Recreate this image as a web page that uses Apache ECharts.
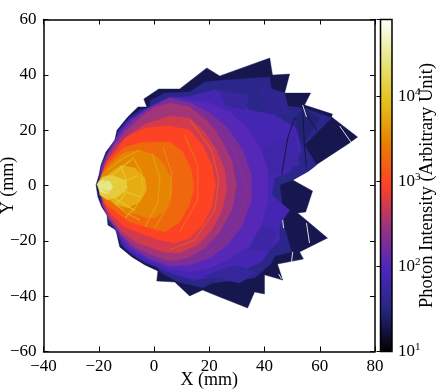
<!DOCTYPE html>
<html><head><meta charset="utf-8">
<style>html,body{margin:0;padding:0;background:#fff}#c{width:440px;height:390px}</style>
<script src="https://cdn.jsdelivr.net/npm/echarts@6/dist/echarts.min.js"></script></head>
<body><div id="c"></div>
<script>
// Regions in mm, each with an estimated photon intensity
const outline=[[-21,0.2],[-19.9,3.8],[-19.2,7.4],[-17.4,12.1],[-14.2,16.4],[-13.4,20],[-9.5,24.8],[-5.8,28.4],[-2.6,28.4],[-3.7,31.3],[1.7,34.9],[9.3,34.9],[19.1,42.5],[23.8,39.6],[41.9,46.1],[42.9,39.9],[49.1,40.3],[47.3,33.4],[56.7,33.4],[54.5,29.1],[64.6,25.8],[64.3,24.8],[73.7,17.5],[70.8,15.4],[59.2,7.8],[55.9,5.2],[50.2,2],[57.4,-2],[54.9,-9.6],[52,-9.9],[62.8,-19],[52.7,-24],[54.1,-26.6],[44.7,-28.4],[46.6,-34.2],[40,-32.3],[40,-39.2],[36.4,-38.5],[33.9,-44.3],[23.8,-40.3],[17.6,-37.8],[12.9,-39.9],[7.5,-34.9],[1,-34.5],[1.4,-30.9],[-3.3,-28.7],[-8,-25.8],[-12.4,-22.2],[-13.8,-16.1],[-16.7,-14.3],[-17,-10.7],[-18.9,-7.8],[-20.3,-4.2]];
const navyZone=[[-19.6,1],[-18.9,7],[-17,11.6],[-13.8,16],[-12.9,19.8],[-9,24.5],[-4.8,27.6],[-1.5,28],[-1.5,30.5],[3.9,33.4],[12.9,33.8],[18.4,37.4],[25.6,38.1],[41.9,39.2],[42.6,33.8],[47.3,33],[48,28.7],[54.5,28],[64.3,24.4],[54.5,14.6],[58.8,7.4],[56,5.2],[50.2,2],[45.5,0.2],[46.9,-10.7],[46.2,-11.7],[49.8,-24],[43.7,-25.5],[42.6,-28],[39,-31.3],[36.4,-33.4],[21.3,-35.2],[17.6,-37],[8.6,-34.9],[2.1,-31.3],[1.4,-29.5],[-3.3,-28],[-8,-25],[-12,-21.5],[-13.5,-16],[-16.3,-14],[-16.8,-10.5],[-18.7,-7.5],[-19.9,-3.4]];
const blueZone=[[-19.9,2],[-19.1,7.4],[-17.2,11],[-14,14.6],[-13,19.3],[-9,24],[-3.3,27],[-0.8,27.6],[5.7,31.6],[12.9,32.3],[21.9,34.5],[29.2,32.7],[34.6,27.3],[43.7,25.5],[51.3,20.8],[53.4,12.8],[49.1,4.9],[43.7,2.7],[42.6,-3.4],[49.1,-8.9],[45.5,-14.3],[45.5,-19.7],[41.9,-23.3],[39,-27.6],[31,-31.3],[21.9,-32.7],[14.7,-34.2],[7.5,-32.3],[2.1,-30],[-5.1,-26.6],[-10.5,-22.5],[-13,-18],[-14.5,-15],[-16,-12.5],[-17,-9],[-19,-5]];
const facetA=[[38.2,36.3],[47.3,33.4],[49.1,25.5],[40,26.6]];
const facetB=[[50.9,24.4],[54.5,28],[59.9,24.4],[53.8,14.6]];
const facetC=[[23.8,34.5],[34.6,32.7],[32.8,27.3],[25.6,29.1]];
const facetD=[[38.9,12.8],[50.9,18.2],[52.7,7.4],[41.2,3.8]];
const facetE=[[38.9,-14.3],[44.7,-16.8],[41.9,-23.3],[34.6,-23.3]];
const facetF=[[18.4,-32.7],[29.2,-28.7],[37.5,-31.3],[31,-35.2]];
const level110=[[-19.4,3.8],[-18.7,7.4],[-17.3,11],[-15.3,14.6],[-12.5,19.3],[-8.5,23.7],[-2.5,28],[5.7,32],[12.9,31],[20.2,29.8],[27.4,26.6],[32.8,21.9],[38.9,12.8],[41.2,5.6],[41.2,-5.2],[38.9,-14.3],[34.6,-21.5],[28,-26.2],[20.2,-29.8],[12.9,-31.3],[5.7,-30],[-1.5,-27],[-9,-23],[-12.2,-19],[-13,-16],[-15,-14],[-17,-10],[-19,-5]];
const level190=[[-19.2,3.8],[-18.5,7.4],[-17,11],[-14.9,14.6],[-11.6,19.3],[-7.7,23.7],[-1.5,28],[5.7,31.6],[12.9,30],[20.2,26.2],[26.7,20.8],[32.1,12.8],[35.3,3.8],[35.3,-5.2],[32.1,-14.3],[26.7,-21.5],[20.2,-26.2],[12.9,-28.7],[5.7,-29.1],[-1.5,-26.5],[-8.7,-22],[-12,-18],[-13,-15.5],[-16.5,-12],[-18.7,-7],[-19.2,-2.7]];
const level320=[[-18.9,3.8],[-18.1,7.4],[-16.7,11],[-14.2,14.6],[-10.5,19.3],[-5.1,24.4],[0.3,28.4],[5.7,29.8],[12.9,28.5],[19.5,23],[24.5,16.4],[28.1,9.2],[29.9,0.2],[28.1,-8.9],[23.8,-16.8],[18.4,-22.6],[12.2,-26.2],[5.7,-27.3],[-0.8,-25.1],[-6.9,-22.2],[-12,-17.6],[-16,-12.5],[-18.5,-7],[-18.9,-2.7]];
const level550=[[-18.9,3.4],[-17.8,7],[-16,10.7],[-13.1,14.6],[-8.7,18.6],[-3.3,22.2],[5.7,25.1],[12.9,24.4],[18.4,19.3],[22.7,12.8],[25.6,5.6],[26.3,-1.6],[24.5,-9.6],[20.9,-16.1],[15.8,-21.5],[9.3,-24.4],[3.2,-24],[-5.8,-20.8],[-11.6,-16.8],[-15.6,-11.7],[-18.1,-7],[-18.9,-3.1]];
const level950=[[-18.9,3.1],[-18.1,6.3],[-16.7,9.2],[-13.4,12.8],[-10.5,17.2],[-3.3,20.8],[5.7,21.5],[12.9,20.1],[17.6,14.6],[20.9,7.4],[22.3,0.2],[20.9,-7.8],[17.6,-14.3],[12.9,-19],[7.5,-20.8],[2.1,-19.7],[-3.3,-17.9],[-10.5,-15],[-15.2,-10.7],[-18.1,-6.3],[-18.9,-3]];
const level1800=[[-19.2,2.7],[-18.5,4.9],[-17,7.4],[-13.8,11],[-10.5,13.9],[-5.1,15.4],[0.3,15.7],[5.7,15.7],[10.4,12.1],[13.6,5.6],[14.4,-0.9],[12.9,-7],[9.3,-13.2],[3.9,-16.8],[-1.5,-15.4],[-8.7,-13.2],[-13.4,-9.9],[-17,-7],[-18.9,-4.2]];
const level3000=[[-19.6,2.3],[-18.9,3.8],[-17,6.3],[-13.4,9.9],[-10.5,12.1],[-5.1,12.8],[0.3,11],[3.9,7.4],[6.4,2],[6.4,-3.4],[3.9,-8.9],[0.3,-11.7],[-3.3,-11.4],[-8.7,-9.9],[-13.4,-7.8],[-17.4,-4.5],[-19.2,-2.3]];
const level6000=[[-19.6,1.6],[-17.2,3.4],[-14.5,5.6],[-11.7,7.4],[-6.9,6.3],[-3.3,2.7],[-2.6,-1.6],[-5.1,-5.9],[-9.4,-8.1],[-13.8,-7],[-16.7,-3.8],[-19.4,-1.8]];
const level12000=[[-20.3,1.3],[-18.5,3.1],[-15.2,3.8],[-10.5,2],[-9.5,-0.9],[-13.1,-4.2],[-16.7,-5.2],[-19.6,-3.4]];
const level28000=[[-20.7,0.5],[-18.5,2],[-16,1.6],[-14.9,-0.5],[-16.7,-3.1],[-19.6,-2.3]];
const regionShapes=[outline,navyZone,blueZone,facetA,facetB,facetC,facetD,facetE,facetF,level110,level190,level320,level550,level950,level1800,level3000,level6000,level12000,level28000];
const regionValues=[20,36,75,42,28,52,62,58,48,110,190,320,550,950,1800,3000,6000,12000,28000];
// Bright arcs and rays
const arcA=[[-7.7,10.3],[-4.4,4.5],[-4,-1.6],[-6.6,-7.8],[-10.5,-11.7]];
const arcB=[[-0.8,11.7],[2.1,3.1],[1.4,-6.3],[-3.3,-15]];
const arcC=[[3.2,13.9],[6.4,4.5],[5.7,-6.3],[0.3,-15.4]];
const arcD=[[11.1,18.3],[15.8,7.4],[15.8,-5.2],[9.3,-16.8]];
const arcE=[[13,23.7],[20.9,12.8],[23.4,2],[22,-8.9],[14.7,-19.7],[5.7,-23.3]];
const arcF=[[11.1,29.1],[22,20],[28.5,5.6],[28.5,-7],[22,-17.9]];
const arcG=[[16.6,26.6],[29.2,12.8],[33.9,-1.6],[29.2,-16.1],[18.4,-25.1]];
const arcH=[[-12,7],[-10,2],[-11,-4],[-14,-7]];
const rayA=[[-16.7,5.6],[-10.5,10.3],[-5.1,12.8]];
const rayB=[[-16.7,-4.2],[-10.5,-9.6],[-5.1,-12.5]];
const rayC=[[-19,0.5],[-13,5.5],[-8,9.5]];
const rayD=[[-19,-1],[-13,-5.5],[-7,-9]];
const rayE=[[-18,2],[-12,1],[-6,3.5]];
const rayF=[[-18,-2],[-11,-2],[-5,-4]];
const arcShapes=[arcA,arcB,arcC,arcD,arcE,arcF,arcG,arcH,rayA,rayB,rayC,rayD,rayE,rayF];
const arcValues=[9000,6000,4500,3000,1700,420,260,14000,7000,7000,14000,14000,14000,14000];
// Dark seams and white gaps between the outer regions
const darkSeams=[[[53.8,28.4],[54.5,13.9],[55.2,6.7]],[[50.9,24.4],[48.4,17.2],[46.2,3.8]],[[53.8,28.4],[58.8,20.1]]];
const whiteGaps=[[[53.8,29.1],[55.2,24.8]],[[67.2,21.5],[71.5,15.4]],[[46.6,-12.5],[46.9,-15.4]],[[55.2,-13.6],[56.3,-20.8]],[[50.2,-24],[49.8,-27.6]],[[45.1,-32],[46.2,-33.8]]];
const colorStops=['#000000','#262680','#4d26bf','#993380','#ff4026','#e68000','#e6bf1a','#e6e680','#ffffff'];
const colorRange=[10,80000];
const xTicks={min:-40,max:80,interval:20};
const yTicks={min:-60,max:60,interval:20};

const FONT='"Liberation Serif"';
const minus=v=>String(v).replace('-','\u2212');
const GL=43.5,GT=19.5,GW=331.5,GH=332;
const lineAxis={show:true,onZero:false,lineStyle:{color:'#000',width:1.5}};
const inTick={show:true,inside:true,length:5,lineStyle:{color:'#000',width:1}};
const labelStyle={color:'#000',fontFamily:FONT,fontSize:17};
function axis(base,pos,grid,labels,extra){
  return Object.assign({type:'value',position:pos,gridIndex:grid,min:base.min,max:base.max,interval:base.interval,
    axisLine:lineAxis,axisTick:inTick,splitLine:{show:false},
    axisLabel:labels?Object.assign({show:true,margin:7,formatter:minus,showMinLabel:true,showMaxLabel:true,hideOverlap:false},labelStyle):{show:false}},extra||{});
}
const polyItem=(pts,api,style)=>({type:'polygon',shape:{points:pts.map(p=>api.coord(p))},style});
const lineItem=(pts,api,style)=>({type:'polyline',shape:{points:pts.map(p=>api.coord(p))},style});
const chart=echarts.init(document.getElementById('c'),null,{renderer:'canvas'});
chart.setOption({
  animation:false,backgroundColor:'#fff',
  grid:[{left:GL,top:GT,width:GW,height:GH,outerBoundsMode:'none'},{left:380.5,top:GT,width:11.5,height:GH,outerBoundsMode:'none',show:true,borderColor:'#000',borderWidth:1.5,backgroundColor:'transparent',z:6}],
  xAxis:[
    axis(xTicks,'bottom',0,true,{name:'X (mm)',nameLocation:'middle',nameGap:20,nameMoveOverlap:false,nameTextStyle:{color:'#000',fontFamily:FONT,fontSize:18}}),
    axis(xTicks,'top',0,false),
    {type:'value',gridIndex:1,min:0,max:1,show:false}
  ],
  yAxis:[
    axis(yTicks,'left',0,true,{name:'Y (mm)',nameLocation:'middle',nameGap:26,nameRotate:90,nameMoveOverlap:false,nameTextStyle:{color:'#000',fontFamily:FONT,fontSize:18}}),
    axis(yTicks,'right',0,false),
    {type:'log',logBase:10,gridIndex:1,position:'right',min:colorRange[0],max:colorRange[1],z:7,
     name:'Photon Intensity (Arbitrary Unit)',nameLocation:'middle',nameGap:26,nameRotate:90,nameMoveOverlap:false,
     nameTextStyle:{color:'#000',fontFamily:FONT,fontSize:18.5},
     axisLine:{show:false},splitLine:{show:false},minorTick:{show:false},
     axisTick:{show:true,inside:true,length:4,lineStyle:{color:'#000',width:1}},
     axisLabel:{show:true,margin:6,color:'#000',fontFamily:FONT,
       formatter:v=>{const e=Math.log10(v);return Math.abs(e-Math.round(e))<1e-6?`{b|10}{s|${Math.round(e)}}`:'';},
       rich:{b:{fontFamily:FONT,fontSize:17,color:'#000'},s:{fontFamily:FONT,fontSize:11,color:'#000',padding:[0,0,9,0]}}}}
  ],
  visualMap:[{type:'continuous',seriesIndex:[0,1],dimension:1,min:Math.log10(colorRange[0]),max:Math.log10(colorRange[1]),
    left:380.5,top:GT,itemWidth:11.5,itemHeight:GH,padding:0,text:null,showLabel:false,calculable:false,hoverLink:false,
    inRange:{color:colorStops},textStyle:{fontSize:0},z:4}],
  series:[
    {type:'custom',xAxisIndex:0,yAxisIndex:0,clip:true,silent:true,z:2,
     data:regionValues.map((v,i)=>[i,Math.log10(v)]),
     renderItem:(p,api)=>polyItem(regionShapes[api.value(0)],api,{fill:api.visual('color'),stroke:api.visual('color'),lineWidth:0.4})},
    {type:'custom',xAxisIndex:0,yAxisIndex:0,clip:true,silent:true,z:3,
     data:arcValues.map((v,i)=>[i,Math.log10(v)]),
     renderItem:(p,api)=>lineItem(arcShapes[api.value(0)],api,{fill:'none',stroke:api.visual('color'),lineWidth:1.4,opacity:0.55})},
    {type:'custom',xAxisIndex:0,yAxisIndex:0,clip:true,silent:true,z:3,
     data:darkSeams.map((v,i)=>[i]),
     renderItem:(p,api)=>lineItem(darkSeams[api.value(0)],api,{fill:'none',stroke:'#14123f',lineWidth:0.9})},
    {type:'custom',xAxisIndex:0,yAxisIndex:0,clip:true,silent:true,z:3,
     data:whiteGaps.map((v,i)=>[i]),
     renderItem:(p,api)=>lineItem(whiteGaps[api.value(0)],api,{fill:'none',stroke:'#f4f4ee',lineWidth:0.9})}
  ]
});
</script></body></html>
